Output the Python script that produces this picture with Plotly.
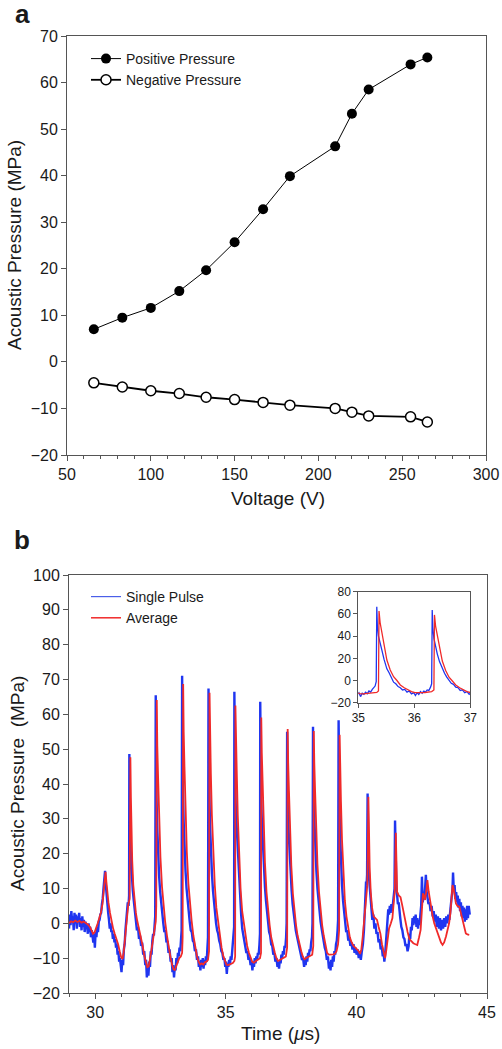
import plotly.graph_objects as go

# ---------------- Panel a data ----------------
voltage = [66, 83, 100, 117, 133, 150, 167, 183, 210, 220, 230, 255, 265]
positive_pressure = [7.0, 9.5, 11.6, 15.2, 19.7, 25.7, 32.8, 39.9, 46.3, 53.3, 58.5, 63.9, 65.4]
negative_pressure = [-4.5, -5.4, -6.2, -6.8, -7.6, -8.1, -8.7, -9.3, -10.0, -10.8, -11.6, -11.8, -12.9]

# ---------------- Panel b data (time us, pressure MPa) ----------------
single_pulse = [
    (29.00, -1.5), (29.03, 2.5), (29.06, -0.5), (29.09, 3.5), (29.12, 0.5), (29.15, 2.0), (29.18, -2.0),
    (29.21, 3.0), (29.24, 0.0), (29.27, 2.5), (29.30, -1.5), (29.33, 2.0), (29.36, 0.5), (29.39, 3.0),
    (29.42, -1.0), (29.45, 1.5), (29.48, -2.0), (29.51, 2.0), (29.54, -1.0), (29.57, 1.0), (29.60, -2.5),
    (29.63, 0.5), (29.66, -1.5), (29.69, -0.5), (29.72, -3.0), (29.75, 0.0), (29.78, -2.5), (29.81, -1.0),
    (29.84, -4.0), (29.87, -2.0), (29.90, -3.5), (29.93, -5.5), (29.96, -3.0), (29.99, -7.0), (30.02, -2.5),
    (30.05, -4.0), (30.08, -1.0), (30.11, -2.5), (30.14, 0.5), (30.17, 1.0), (30.20, 2.5), (30.23, 3.0),
    (30.26, 5.5), (30.29, 7.0), (30.32, 10.0), (30.35, 12.5), (30.38, 15.1),
    (30.41, 11.0), (30.44, 7.5), (30.47, 5.0), (30.50, 3.0), (30.53, 1.0), (30.56, -1.5), (30.59, 0.0),
    (30.62, -2.5), (30.65, -2.0), (30.68, -4.5), (30.71, -3.0), (30.74, -5.5), (30.77, -4.5), (30.80, -7.0),
    (30.83, -6.0), (30.86, -9.0), (30.89, -8.0), (30.92, -11.0), (30.95, -10.0), (30.98, -12.5), (31.01, -14.0),
    (31.04, -10.5), (31.07, -12.0), (31.10, -7.5), (31.13, -6.0), (31.16, -2.0), (31.19, 1.0), (31.22, 4.0),
    (31.25, 6.0), (31.28, 5.0), (31.30, 8.0), (31.31, 48.6),
    (31.32, 35.0), (31.34, 26.0), (31.37, 19.0), (31.40, 14.0), (31.44, 9.5), (31.48, 6.5), (31.52, 3.0),
    (31.56, 1.5), (31.60, -2.0), (31.64, -1.0), (31.68, -4.5), (31.72, -3.5), (31.76, -6.5), (31.80, -5.5),
    (31.84, -9.0), (31.88, -8.0), (31.92, -12.0), (31.95, -10.5), (31.98, -15.5), (32.01, -13.0), (32.04, -15.0),
    (32.07, -11.0), (32.10, -12.5), (32.13, -8.0), (32.16, -9.0), (32.19, -5.0), (32.22, -3.0), (32.25, -3.5),
    (32.28, 0.0), (32.30, 2.0), (32.32, 65.5),
    (32.33, 48.0), (32.35, 36.0), (32.38, 27.0), (32.41, 20.0), (32.45, 13.5), (32.49, 9.0), (32.53, 5.5),
    (32.57, 2.5), (32.61, 0.0), (32.65, -2.5), (32.69, -2.0), (32.73, -5.5), (32.77, -5.0), (32.81, -8.5),
    (32.85, -7.5), (32.89, -11.0), (32.93, -10.0), (32.96, -14.0), (32.99, -12.0), (33.02, -15.5), (33.05, -12.5),
    (33.08, -13.5), (33.11, -10.0), (33.14, -11.5), (33.17, -8.5), (33.20, -9.5), (33.23, -7.0), (33.26, -8.0),
    (33.29, -5.0), (33.31, -2.0), (33.33, 71.1),
    (33.34, 52.0), (33.36, 39.0), (33.39, 29.0), (33.42, 22.0), (33.46, 15.0), (33.50, 10.0), (33.54, 6.0),
    (33.58, 3.0), (33.62, 0.5), (33.66, -2.0), (33.70, -2.5), (33.74, -5.0), (33.78, -5.5), (33.82, -8.0),
    (33.86, -7.5), (33.90, -10.5), (33.94, -9.5), (33.97, -12.5), (34.00, -11.0), (34.03, -13.5), (34.06, -10.5),
    (34.09, -12.5), (34.12, -10.0), (34.15, -13.0), (34.18, -10.5), (34.21, -12.0), (34.24, -9.5), (34.27, -11.0),
    (34.30, -8.0), (34.32, -4.0), (34.34, 67.4),
    (34.35, 50.0), (34.37, 38.0), (34.40, 28.0), (34.43, 21.0), (34.47, 14.5), (34.51, 9.5), (34.55, 5.5),
    (34.59, 3.0), (34.63, 0.0), (34.67, -2.0), (34.71, -3.0), (34.75, -5.0), (34.79, -6.0), (34.83, -8.0),
    (34.87, -8.5), (34.91, -10.5), (34.95, -10.0), (34.98, -12.5), (35.01, -11.0), (35.04, -14.5), (35.07, -11.5),
    (35.10, -12.5), (35.13, -10.5), (35.16, -12.0), (35.19, -9.5), (35.22, -10.5), (35.25, -8.0), (35.28, -6.5),
    (35.30, -5.0), (35.32, -1.0), (35.33, 66.5),
    (35.34, 50.0), (35.36, 40.0), (35.39, 32.0), (35.42, 27.5), (35.46, 19.0), (35.51, 10.5), (35.55, 7.0),
    (35.59, 2.5), (35.63, -1.5), (35.67, -3.0), (35.71, -5.5), (35.75, -6.5), (35.79, -8.5), (35.83, -8.0),
    (35.87, -10.5), (35.91, -9.5), (35.95, -12.0), (35.99, -11.0), (36.02, -13.5), (36.05, -11.0), (36.08, -12.5),
    (36.11, -10.0), (36.14, -11.5), (36.17, -9.5), (36.20, -10.5), (36.23, -8.5), (36.26, -9.0), (36.29, -6.0),
    (36.31, -3.0), (36.32, 63.6),
    (36.33, 48.0), (36.35, 38.0), (36.38, 30.0), (36.41, 24.0), (36.45, 17.0), (36.50, 10.5), (36.54, 6.5),
    (36.58, 3.0), (36.62, 0.0), (36.66, -2.5), (36.70, -3.5), (36.74, -6.0), (36.78, -6.5), (36.82, -9.0),
    (36.86, -8.5), (36.90, -11.0), (36.94, -10.0), (36.98, -12.5), (37.01, -11.0), (37.04, -13.0), (37.07, -10.5),
    (37.10, -11.5), (37.13, -9.0), (37.16, -10.0), (37.19, -8.0), (37.22, -9.0), (37.25, -6.5), (37.28, -7.0),
    (37.31, -4.0), (37.33, 0.0), (37.35, 55.0),
    (37.36, 42.0), (37.38, 33.0), (37.41, 26.0), (37.44, 20.0), (37.48, 14.0), (37.52, 9.5), (37.56, 5.5),
    (37.60, 2.5), (37.64, 0.0), (37.68, -2.0), (37.72, -3.5), (37.76, -5.0), (37.80, -6.5), (37.84, -8.0),
    (37.88, -8.5), (37.92, -10.5), (37.96, -10.0), (38.00, -12.5), (38.03, -10.5), (38.06, -12.0), (38.09, -9.5),
    (38.12, -11.0), (38.15, -8.5), (38.18, -9.5), (38.21, -7.5), (38.24, -8.0), (38.27, -5.5), (38.30, -4.0),
    (38.32, 0.0), (38.34, 56.4),
    (38.35, 43.0), (38.37, 34.0), (38.40, 27.0), (38.43, 21.0), (38.47, 15.0), (38.51, 10.0), (38.55, 6.5),
    (38.59, 3.5), (38.63, 0.5), (38.67, -1.5), (38.71, -3.5), (38.75, -5.0), (38.79, -7.0), (38.83, -8.0),
    (38.87, -10.5), (38.91, -9.5), (38.95, -13.0), (38.98, -11.0), (39.01, -13.5), (39.04, -10.5), (39.07, -12.5),
    (39.10, -9.5), (39.13, -11.0), (39.16, -8.0), (39.19, -9.0), (39.22, -6.0), (39.25, -5.0), (39.28, -2.0),
    (39.30, 1.0), (39.32, 58.3),
    (39.33, 44.0), (39.35, 34.0), (39.38, 25.0), (39.41, 18.0), (39.45, 11.0), (39.49, 6.5), (39.53, 3.0),
    (39.57, 0.5), (39.61, -2.5), (39.65, -2.0), (39.69, -5.0), (39.73, -4.0), (39.77, -6.5), (39.81, -5.5),
    (39.85, -7.5), (39.89, -6.0), (39.93, -8.5), (39.97, -7.0), (40.01, -9.0), (40.05, -7.5), (40.09, -10.0),
    (40.13, -8.0), (40.17, -10.5), (40.21, -8.0), (40.25, -6.0), (40.29, -2.0), (40.32, 3.0), (40.35, 9.5),
    (40.37, 12.0), (40.39, 11.0), (40.41, 14.0), (40.43, 37.3),
    (40.44, 25.0), (40.46, 18.0), (40.49, 12.5), (40.53, 7.5), (40.57, 4.0), (40.61, 1.0), (40.65, 2.5),
    (40.69, -1.5), (40.73, 0.0), (40.77, -3.0), (40.81, -2.5), (40.85, -5.5), (40.89, -4.5), (40.93, -7.5),
    (40.97, -6.5), (41.01, -9.5), (41.04, -8.0), (41.07, -11.0), (41.10, -9.0), (41.13, -6.0), (41.16, -2.5),
    (41.19, 1.5), (41.22, 4.0), (41.25, 2.5), (41.28, 5.0), (41.31, 3.0), (41.34, 5.5), (41.37, 3.5),
    (41.40, 6.0), (41.43, 8.0), (41.46, 10.0), (41.48, 29.5),
    (41.50, 16.0), (41.53, 10.5), (41.56, 8.0), (41.59, 5.5), (41.62, 6.0), (41.65, 2.5), (41.68, 1.5),
    (41.72, -1.0), (41.76, -2.0), (41.80, -4.0), (41.84, -4.5), (41.88, -6.5), (41.92, -6.0), (41.96, -8.0),
    (42.00, -6.5), (42.03, -3.0), (42.06, -4.5), (42.09, -1.0), (42.12, -2.0), (42.15, 1.5), (42.18, -0.5),
    (42.21, 2.0), (42.24, 0.0), (42.27, 2.5), (42.30, -1.0), (42.33, 1.5), (42.36, -1.5), (42.39, 1.0),
    (42.42, -0.5), (42.45, 2.5), (42.48, 5.0), (42.51, 13.4), (42.54, 6.0), (42.57, 9.0), (42.60, 7.0),
    (42.63, 10.0), (42.66, 13.9), (42.69, 9.0), (42.72, 7.5), (42.76, 5.5), (42.80, 6.0), (42.84, 3.5),
    (42.88, 5.0), (42.92, 2.0), (42.96, 3.5), (43.00, 0.5), (43.04, 2.5), (43.08, -1.0), (43.12, 2.0),
    (43.16, -1.5), (43.20, 1.5), (43.24, -2.0), (43.28, 1.0), (43.32, -1.5), (43.36, 1.5), (43.40, -1.0),
    (43.44, 2.0), (43.48, 0.0), (43.52, 2.5), (43.56, 1.0), (43.60, 4.0), (43.64, 7.0), (43.68, 10.0),
    (43.70, 14.6), (43.73, 9.5), (43.76, 11.0), (43.79, 7.0), (43.82, 9.0), (43.85, 6.0), (43.88, 8.0),
    (43.91, 4.5), (43.94, 7.0), (43.97, 3.5), (44.00, 6.0), (44.03, 2.0), (44.06, 5.0), (44.09, 1.5),
    (44.12, 4.5), (44.15, 0.5), (44.18, 4.0), (44.21, 1.0), (44.24, 5.0), (44.27, 1.5), (44.30, 5.0),
    (44.34, 2.5),
]

average = [
    (29.00, 0.0), (29.08, 0.6), (29.16, 0.3), (29.24, 0.8), (29.32, 0.4), (29.40, 0.7), (29.48, 0.2),
    (29.56, 0.5), (29.64, 0.1), (29.72, -0.3), (29.80, -1.0), (29.86, -2.2), (29.92, -3.0), (29.98, -2.6),
    (30.04, -1.5), (30.10, 0.0), (30.16, 1.5), (30.22, 3.0), (30.28, 5.5), (30.33, 9.5), (30.37, 13.5),
    (30.40, 14.8), (30.43, 12.0), (30.47, 8.5), (30.51, 6.0), (30.57, 3.0), (30.63, 0.2), (30.69, -1.5),
    (30.75, -3.0), (30.82, -4.5), (30.88, -6.0), (30.94, -8.0), (31.00, -9.8), (31.05, -10.2), (31.09, -8.5),
    (31.13, -5.5), (31.18, -1.0), (31.22, 2.8), (31.27, 5.5), (31.32, 7.0), (31.35, 47.7),
    (31.37, 36.0), (31.39, 27.0), (31.42, 18.0), (31.46, 11.0), (31.51, 6.0), (31.56, 3.0), (31.61, 0.8),
    (31.68, -1.5), (31.75, -4.0), (31.82, -6.5), (31.89, -9.5), (31.95, -11.5), (32.00, -12.6), (32.05, -12.4),
    (32.10, -10.5), (32.16, -7.5), (32.22, -4.5), (32.27, -2.0), (32.32, 0.5), (32.34, 5.0), (32.36, 64.1),
    (32.38, 51.0), (32.41, 42.0), (32.45, 30.0), (32.50, 19.0), (32.56, 10.5), (32.62, 4.5), (32.68, 0.5),
    (32.75, -3.5), (32.82, -7.0), (32.89, -10.0), (32.95, -12.0), (33.00, -13.2), (33.05, -13.4), (33.10, -12.5),
    (33.16, -11.0), (33.22, -10.0), (33.28, -9.5), (33.33, -8.5), (33.35, -4.0), (33.37, 68.7),
    (33.39, 55.0), (33.42, 45.0), (33.46, 32.0), (33.51, 20.5), (33.57, 11.5), (33.63, 5.0), (33.69, 1.0),
    (33.76, -3.5), (33.83, -7.0), (33.90, -9.5), (33.96, -11.0), (34.02, -11.8), (34.08, -11.5), (34.14, -11.8),
    (34.20, -11.2), (34.26, -11.0), (34.32, -10.5), (34.36, -8.0), (34.38, 66.2),
    (34.40, 53.0), (34.43, 43.0), (34.47, 31.0), (34.52, 20.0), (34.58, 11.0), (34.64, 4.5), (34.70, 0.5),
    (34.77, -3.5), (34.84, -7.0), (34.91, -9.5), (34.97, -11.0), (35.03, -11.9), (35.09, -12.0), (35.15, -11.8),
    (35.21, -11.6), (35.27, -11.4), (35.33, -10.8), (35.36, -9.5), (35.37, 62.5),
    (35.39, 52.0), (35.42, 44.0), (35.46, 31.0), (35.51, 18.4), (35.57, 9.5), (35.63, 3.4), (35.69, 0.0),
    (35.75, -4.0), (35.82, -6.5), (35.89, -8.5), (35.95, -10.0), (36.01, -11.0), (36.07, -11.3), (36.13, -11.0),
    (36.19, -10.8), (36.25, -10.5), (36.31, -10.0), (36.35, -8.5), (36.36, 59.1),
    (36.38, 49.0), (36.41, 41.0), (36.45, 29.0), (36.50, 17.5), (36.56, 9.0), (36.62, 3.0), (36.68, -0.5),
    (36.74, -4.0), (36.81, -6.5), (36.88, -8.5), (36.94, -10.0), (37.00, -10.8), (37.06, -10.6), (37.12, -10.2),
    (37.18, -10.0), (37.24, -9.8), (37.30, -9.5), (37.35, -7.0), (37.37, 55.8),
    (37.39, 46.0), (37.42, 38.0), (37.46, 27.0), (37.51, 16.5), (37.57, 8.5), (37.63, 3.0), (37.69, -0.5),
    (37.75, -3.5), (37.82, -6.0), (37.89, -8.0), (37.95, -9.5), (38.01, -10.3), (38.07, -10.0), (38.13, -9.8),
    (38.19, -9.5), (38.25, -9.3), (38.31, -9.0), (38.35, -6.5), (38.37, 55.2),
    (38.39, 46.0), (38.42, 38.0), (38.46, 27.0), (38.51, 17.0), (38.57, 9.0), (38.63, 3.0), (38.69, -0.5),
    (38.75, -3.5), (38.82, -6.0), (38.88, -8.5), (38.94, -9.0), (39.00, -9.0), (39.06, -8.8), (39.12, -8.9),
    (39.18, -8.7), (39.24, -8.0), (39.30, -6.0), (39.34, -2.0), (39.36, 54.1),
    (39.38, 44.0), (39.41, 35.0), (39.45, 24.0), (39.50, 14.0), (39.56, 6.5), (39.62, 2.0), (39.68, -1.5),
    (39.75, -4.0), (39.82, -5.5), (39.89, -6.5), (39.96, -7.0), (40.03, -7.5), (40.09, -8.0), (40.14, -8.8),
    (40.19, -7.5), (40.24, -4.0), (40.29, 0.5), (40.34, 6.0), (40.38, 9.5), (40.42, 11.0), (40.46, 36.3),
    (40.48, 25.0), (40.51, 16.0), (40.55, 9.0), (40.60, 4.5), (40.66, 2.0), (40.72, 1.5), (40.79, 1.0),
    (40.85, -1.0), (40.92, -3.0), (40.98, -6.0), (41.04, -8.5), (41.10, -10.0), (41.15, -7.5), (41.20, -4.0),
    (41.25, -1.5), (41.32, 0.0), (41.38, 1.5), (41.43, 6.0), (41.47, 9.0), (41.51, 26.0),
    (41.53, 16.0), (41.56, 9.0), (41.62, 8.0), (41.69, 7.5), (41.76, 5.0), (41.83, 2.0), (41.89, 0.0),
    (41.96, -2.5), (42.03, -4.5), (42.10, -5.2), (42.18, -5.7), (42.26, -6.0), (42.33, -6.2), (42.40, -4.0),
    (42.46, -1.9), (42.51, 4.0), (42.55, 8.6), (42.59, 8.0), (42.63, 6.7), (42.68, 9.5), (42.72, 12.4),
    (42.77, 9.0), (42.85, 4.8), (42.92, 2.0), (42.98, 0.0), (43.07, -2.0), (43.17, -3.8), (43.24, -5.5),
    (43.30, -6.2), (43.36, -5.5), (43.43, -3.8), (43.50, -1.5), (43.55, 0.0), (43.60, 3.0), (43.64, 7.0),
    (43.68, 11.0), (43.72, 10.0), (43.76, 7.5), (43.81, 5.7), (43.87, 5.0), (43.94, 4.8), (44.00, 3.0),
    (44.07, 1.0), (44.13, -1.0), (44.19, -2.9), (44.25, -3.2), (44.32, -3.3),
]

single_time = [p[0] for p in single_pulse]
single_value = [p[1] for p in single_pulse]
avg_time = [p[0] for p in average]
avg_value = [p[1] for p in average]

FONT = "Liberation Sans, Arial, Helvetica, sans-serif"
TXT = "#1a1a1a"
AX = "#555555"
BLUE = "#1f35f0"
RED = "#f02a2a"

W, H = 502, 1049


def px_x(x):
    return x / W


def px_y(y):
    return 1 - y / H


fig = go.Figure()

# Panel a
fig.add_trace(go.Scatter(
    x=voltage, y=positive_pressure, mode="lines+markers", name="Positive Pressure",
    line=dict(color="black", width=1), marker=dict(symbol="circle", size=10, color="black"),
    xaxis="x", yaxis="y", legend="legend"))
fig.add_trace(go.Scatter(
    x=voltage, y=negative_pressure, mode="lines+markers", name="Negative Pressure",
    line=dict(color="black", width=1.8),
    marker=dict(symbol="circle", size=10, color="white", line=dict(color="black", width=1.5)),
    xaxis="x", yaxis="y", legend="legend"))

# Panel b
fig.add_trace(go.Scatter(
    x=single_time, y=single_value, mode="lines", showlegend=False,
    line=dict(color=BLUE, width=2.4), xaxis="x2", yaxis="y2"))
fig.add_trace(go.Scatter(
    x=avg_time, y=avg_value, mode="lines", showlegend=False,
    line=dict(color=RED, width=1.8), xaxis="x2", yaxis="y2"))
# legend entries (thin lines as in the original key)
fig.add_trace(go.Scatter(
    x=[None], y=[None], mode="lines", name="Single Pulse",
    line=dict(color="#4a5ee8", width=1.2), xaxis="x2", yaxis="y2", legend="legend2"))
fig.add_trace(go.Scatter(
    x=[None], y=[None], mode="lines", name="Average",
    line=dict(color=RED, width=1.5), xaxis="x2", yaxis="y2", legend="legend2"))

# Inset
fig.add_trace(go.Scatter(
    x=single_time, y=single_value, mode="lines", showlegend=False,
    line=dict(color=BLUE, width=1.3), xaxis="x3", yaxis="y3"))
fig.add_trace(go.Scatter(
    x=avg_time, y=avg_value, mode="lines", showlegend=False,
    line=dict(color=RED, width=1.3), xaxis="x3", yaxis="y3"))

tickfont = dict(family=FONT, size=16, color=TXT)
common = dict(showline=True, linecolor=AX, linewidth=1, mirror=True, ticks="outside",
              tickcolor=AX, ticklen=5, showgrid=False, zeroline=False, tickfont=tickfont,
              automargin=False)
small = {**common, "tickfont": dict(family=FONT, size=12, color=TXT), "ticklen": 4}

fig.update_layout(
    width=W, height=H, autosize=False,
    margin=dict(l=0, r=0, t=0, b=0, autoexpand=False),
    paper_bgcolor="white", plot_bgcolor="white",
    font=dict(family=FONT, color=TXT),
    xaxis=dict(domain=[px_x(67), px_x(486)], range=[50, 300], tick0=50, dtick=50,
               minor=dict(dtick=10, ticks="outside", ticklen=3, tickcolor=AX),
               anchor="y", **common),
    yaxis=dict(domain=[px_y(455), px_y(36)], range=[-20, 70], dtick=10, anchor="x", **common),
    xaxis2=dict(domain=[px_x(69), px_x(487)], range=[29, 45], tick0=30, dtick=5,
                minor=dict(tick0=30, dtick=1, ticks="outside", ticklen=3, tickcolor=AX),
                anchor="y2", **common),
    yaxis2=dict(domain=[px_y(993), px_y(575)], range=[-20, 100], dtick=10, anchor="x2", **common),
    xaxis3=dict(domain=[px_x(358.3), px_x(470.3)], range=[35, 37], dtick=1, anchor="y3", **small),
    yaxis3=dict(domain=[px_y(702.7), px_y(591.7)], range=[-20, 80], dtick=20, anchor="x3", **small),
    legend=dict(x=px_x(86), y=px_y(43), xanchor="left", yanchor="top", bgcolor="rgba(0,0,0,0)",
                font=dict(family=FONT, size=14, color=TXT), tracegroupgap=0, itemwidth=30),
    legend2=dict(x=px_x(86), y=px_y(581), xanchor="left", yanchor="top", bgcolor="rgba(0,0,0,0)",
                 font=dict(family=FONT, size=14, color=TXT), tracegroupgap=0, itemwidth=30),
)

annotations = [
    dict(text="<b>a</b>", x=px_x(22), y=px_y(14), font=dict(size=26)),
    dict(text="<b>b</b>", x=px_x(22), y=px_y(540), font=dict(size=26)),
    dict(text="Acoustic Pressure (MPa)", x=px_x(14), y=px_y(245), textangle=-90, font=dict(size=19)),
    dict(text="Voltage (V)", x=px_x(278), y=px_y(498), font=dict(size=19)),
    dict(text="Acoustic Pressure  (MPa)", x=px_x(17), y=px_y(784), textangle=-90, font=dict(size=19)),
    dict(text="Time (<i>μ</i>s)", x=px_x(280), y=px_y(1033), font=dict(size=19)),
]
for a in annotations:
    a.update(xref="paper", yref="paper", showarrow=False, xanchor="center", yanchor="middle")
    a["font"].update(family=FONT, color=TXT)
    fig.add_annotation(**a)

fig.write_html(
    "out.html",
    config={"displayModeBar": False},
    post_script="document.body.style.margin='0';document.body.style.padding='0';"
                "document.documentElement.style.overflow='hidden';",
)
